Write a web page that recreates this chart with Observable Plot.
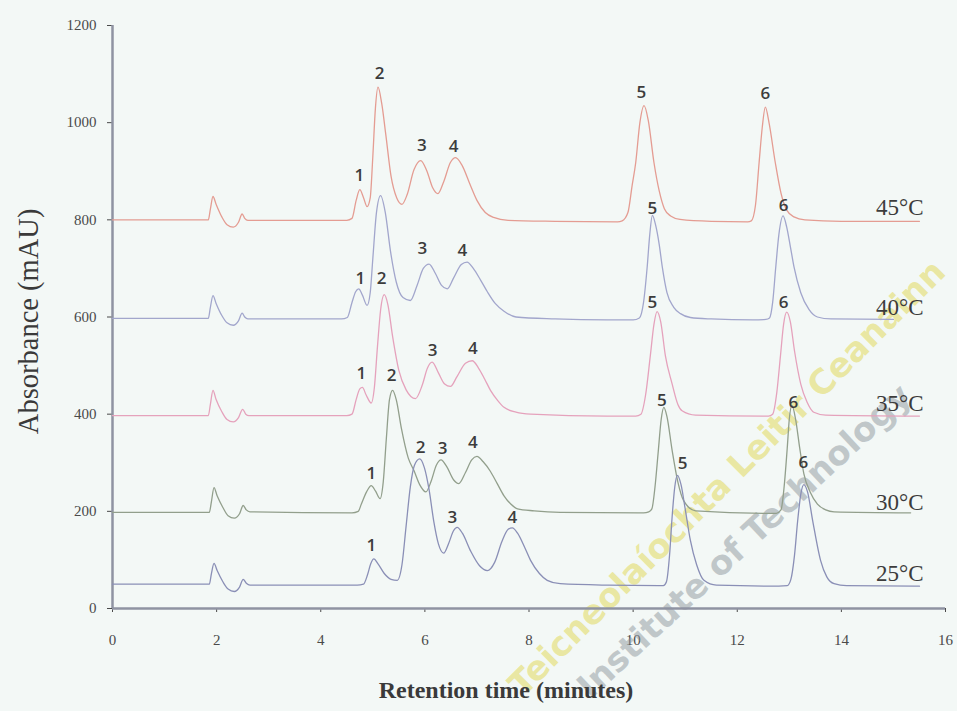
<!DOCTYPE html>
<html><head><meta charset="utf-8">
<script src="https://cdn.jsdelivr.net/npm/d3@7"></script>
<script src="https://cdn.jsdelivr.net/npm/@observablehq/plot@0.6"></script>
<style>
html,body{margin:0;padding:0;background:#f3f8f6;}
#chart svg{display:block}
</style></head><body><div id="chart"></div>
<script>
// ---- data ----
const temperatures = ["45°C", "40°C", "35°C", "30°C", "25°C"];
const traceColors = ["#e49c92", "#a2a6cc", "#e5a2bc", "#929f8c", "#8a8fb6"];

// [retention time (min), absorbance (mAU)]
const trace45 = [[0,800],[1.84,800],[1.88,822],[1.93,848],[1.99,832],[2.1,806],[2.2,790],[2.32,785],[2.42,795],[2.49,812],[2.54,803],[2.6,799],
  [4.5,799],[4.6,803],[4.68,840],[4.75,862],[4.82,846],[4.89,827],[4.95,845],[5.0,930],[5.05,1030],[5.1,1073],[5.17,1040],[5.25,975],[5.35,890],[5.46,845],[5.56,832],[5.66,852],[5.79,903],[5.92,922],[6.04,900],[6.15,866],[6.25,854],[6.36,878],[6.49,918],[6.59,928],[6.71,913],[6.87,872],[7.0,840],[7.16,815],[7.32,805],[7.6,799],[8.5,797],
  [9.7,796],[9.79,798],[9.9,815],[9.98,870],[10.05,918],[10.13,1000],[10.21,1035],[10.29,1005],[10.4,918],[10.5,860],[10.6,823],[10.72,808],[10.9,801],[11.5,797],[12.2,796],
  [12.27,798],[12.35,830],[12.42,918],[12.48,990],[12.54,1032],[12.61,1000],[12.73,918],[12.84,855],[12.95,820],[13.09,806],[13.3,800],[14,797],[15.5,797]];
const trace40 = [[0,597],[1.84,597],[1.88,620],[1.93,644],[1.99,628],[2.1,603],[2.2,588],[2.32,583],[2.42,592],[2.49,608],[2.54,600],[2.6,596],
  [4.4,596],[4.51,599],[4.6,630],[4.67,652],[4.73,658],[4.8,645],[4.89,624],[4.95,650],[5.0,720],[5.07,815],[5.15,850],[5.24,815],[5.34,735],[5.45,672],[5.58,640],[5.72,634],[5.85,665],[5.97,700],[6.08,709],[6.2,690],[6.32,665],[6.43,658],[6.55,680],[6.7,708],[6.81,713],[6.93,700],[7.07,676],[7.2,652],[7.35,628],[7.52,612],[7.75,600],[8.5,596],[9.5,594],
  [10.0,594],[10.12,598],[10.2,630],[10.27,703],[10.32,770],[10.37,809],[10.43,790],[10.5,750],[10.56,703],[10.65,650],[10.78,620],[10.91,607],[11.1,599],[11.5,596],[12.3,594],[12.55,595],
  [12.62,598],[12.68,630],[12.74,703],[12.8,770],[12.88,808],[12.95,785],[13.02,745],[13.09,703],[13.22,650],[13.38,615],[13.54,600],[13.8,596],[15.0,595]];
const trace35 = [[0,397],[1.84,397],[1.88,420],[1.93,449],[1.99,430],[2.1,405],[2.2,389],[2.32,384],[2.42,393],[2.5,410],[2.56,400],[2.62,397],
  [4.5,397],[4.6,400],[4.68,430],[4.75,452],[4.8,455],[4.87,440],[4.97,423],[5.03,455],[5.09,540],[5.15,615],[5.22,646],[5.29,625],[5.38,560],[5.5,490],[5.64,450],[5.82,432],[5.95,460],[6.05,495],[6.14,507],[6.26,485],[6.38,462],[6.49,457],[6.62,478],[6.78,505],[6.91,510],[7.03,495],[7.15,472],[7.26,449],[7.4,428],[7.52,414],[7.75,404],[8.03,400],[9.5,396],
  [10.05,396],[10.15,400],[10.24,440],[10.33,520],[10.4,585],[10.46,611],[10.53,590],[10.62,520],[10.75,462],[10.86,420],[10.94,407],[11.2,398],[12.5,396],
  [12.6,396],[12.68,400],[12.76,445],[12.83,520],[12.89,585],[12.95,610],[13.02,590],[13.1,530],[13.22,462],[13.34,425],[13.47,404],[13.7,398],[15.5,396]];
const trace30 = [[0,198],[1.86,198],[1.9,220],[1.95,249],[2.01,232],[2.12,208],[2.22,191],[2.34,186],[2.44,195],[2.51,212],[2.57,203],[2.64,199],
  [4.6,197],[4.72,200],[4.78,215],[4.88,240],[4.97,253],[5.05,242],[5.14,226],[5.2,260],[5.26,350],[5.32,430],[5.38,449],[5.45,430],[5.55,370],[5.68,310],[5.79,284],[5.9,255],[6.02,240],[6.12,262],[6.22,295],[6.31,306],[6.42,292],[6.55,265],[6.65,257],[6.78,280],[6.9,306],[7.0,313],[7.12,302],[7.26,282],[7.39,257],[7.52,232],[7.65,215],[7.78,205],[8.1,201],[8.6,198],[10.2,197],
  [10.3,199],[10.36,205],[10.42,250],[10.48,320],[10.54,390],[10.59,414],[10.65,395],[10.75,325],[10.86,260],[10.97,222],[11.2,201],[12.5,196],
  [12.75,196],[12.84,203],[12.9,250],[12.96,330],[13.0,390],[13.05,418],[13.12,390],[13.2,330],[13.28,277],[13.4,240],[13.54,215],[13.7,203],[13.86,199],[15.33,197]];
const trace25 = [[0,50],[1.86,50],[1.9,72],[1.95,93],[2.01,78],[2.12,55],[2.22,40],[2.34,35],[2.44,44],[2.51,60],[2.57,52],[2.64,48],
  [4.7,48],[4.82,50],[4.9,70],[4.96,92],[5.02,102],[5.1,92],[5.22,72],[5.35,60],[5.47,58],[5.56,90],[5.64,170],[5.72,250],[5.8,295],[5.9,308],[5.99,290],[6.08,245],[6.17,180],[6.26,133],[6.36,114],[6.46,135],[6.55,160],[6.62,167],[6.72,155],[6.88,118],[7.05,88],[7.2,78],[7.34,95],[7.48,138],[7.6,163],[7.68,166],[7.78,155],[7.92,125],[8.03,99],[8.2,72],[8.35,58],[8.6,51],[9.5,48],[10.5,47],
  [10.58,47],[10.64,55],[10.7,110],[10.75,190],[10.8,250],[10.85,274],[10.92,255],[11.0,205],[11.1,140],[11.22,90],[11.36,58],[11.6,48],[12.8,46],
  [12.96,47],[13.03,60],[13.1,110],[13.16,180],[13.22,235],[13.28,255],[13.35,240],[13.45,180],[13.6,99],[13.72,65],[13.86,51],[14.1,47],[15.5,46]];
const traces = [trace45, trace40, trace35, trace30, trace25];

const peakLabels    = ["1","2","3","4","5","6", "1","2","3","4","5","6", "1","2","3","4","5","6", "1","2","3","4","5","6", "1","3","4","5","6"];
const peakLabelTime = [4.74,5.13,5.94,6.55,10.16,12.54, 4.76,5.17,5.95,6.72,10.37,12.89, 4.78,5.36,6.15,6.92,10.37,12.89, 4.97,5.92,6.34,6.92,10.55,13.08, 4.97,6.53,7.68,10.95,13.27];
const peakLabelAbs  = [891,1101,953,951,1062,1060, 679,679,741,737,823,830, 484,480,531,535,630,630, 278,331,329,342,428,424, 130,187,187,298,300];

const tempLabelTime = [15.58, 15.58, 15.58, 15.58, 15.58];
const tempLabelAbs  = [826, 620, 422, 218, 72];

const xTicks = [0, 2, 4, 6, 8, 10, 12, 14, 16];
const yTicks = [0, 200, 400, 600, 800, 1000, 1200];

const xTitle = "Retention time (minutes)";
const yTitle = "Absorbance (mAU)";
const watermark1 = "Teicneolaíochta Leitir Ceanainn";
const watermark2 = "Institute of Technology";

// ---- build tables ----
const rows = traces.flatMap((tr, i) => tr.map(([t, v]) => ({t, v, temp: temperatures[i]})));
const peaks = peakLabels.map((s, i) => ({s, t: peakLabelTime[i], v: peakLabelAbs[i]}));
const temps = temperatures.map((s, i) => ({s, t: tempLabelTime[i], v: tempLabelAbs[i]}));

const chart = Plot.plot({
  width: 957,
  height: 711,
  marginLeft: 112,
  marginRight: 12,
  marginTop: 25,
  marginBottom: 103,
  style: {background: "transparent", fontFamily: "Liberation Serif", fontSize: "15px", color: "#4a4a4a"},
  x: {domain: [0, 16], ticks: xTicks, tickSize: 4, tickPadding: 22, tickFormat: d => String(d), label: null},
  y: {domain: [0, 1200], ticks: yTicks, tickSize: 5, tickPadding: 11, tickFormat: d => String(d), label: null},
  color: {domain: temperatures, range: traceColors},
  marks: [
    Plot.text([watermark1], {x: [11.81], y: [268], text: d => d, rotate: -45, fill: "#e2d85a", fillOpacity: 0.55, fontSize: 34, fontWeight: "bold", fontFamily: "DejaVu Sans"}),
    Plot.text([watermark2], {x: [12.14], y: [138], text: d => d, rotate: -43, fill: "#8e969d", fillOpacity: 0.5, fontSize: 34, fontWeight: "bold", fontFamily: "DejaVu Sans"}),
    Plot.ruleY([0], {stroke: "#8f93a2", strokeWidth: 2.5}),
    Plot.ruleX([0], {stroke: "#8f93a2", strokeWidth: 2.5}),
    Plot.line(rows, {x: "t", y: "v", z: "temp", stroke: "temp", curve: "monotone-x", strokeWidth: 1.3}),
    Plot.text(peaks, {x: "t", y: "v", text: "s", fontFamily: "Open Sans", fontWeight: 600, fontSize: 17, fill: "#3c3c3c"}),
    Plot.text(temps, {x: "t", y: "v", text: "s", textAnchor: "end", fontFamily: "Liberation Serif", fontSize: 23, fill: "#3c3c3c"}),
    Plot.text([xTitle], {frameAnchor: "bottom", text: d => d, dx: -23, dy: 89, fontFamily: "Liberation Serif", fontWeight: "bold", fontSize: 24, fill: "#3a3a3a"}),
    Plot.text([yTitle], {x: [-1.61], y: [591], text: d => d, rotate: -90, fontFamily: "Liberation Serif", fontSize: 28.5, fill: "#3a3a3a"})
  ]
});
document.getElementById("chart").appendChild(chart);
</script>
</body></html>
